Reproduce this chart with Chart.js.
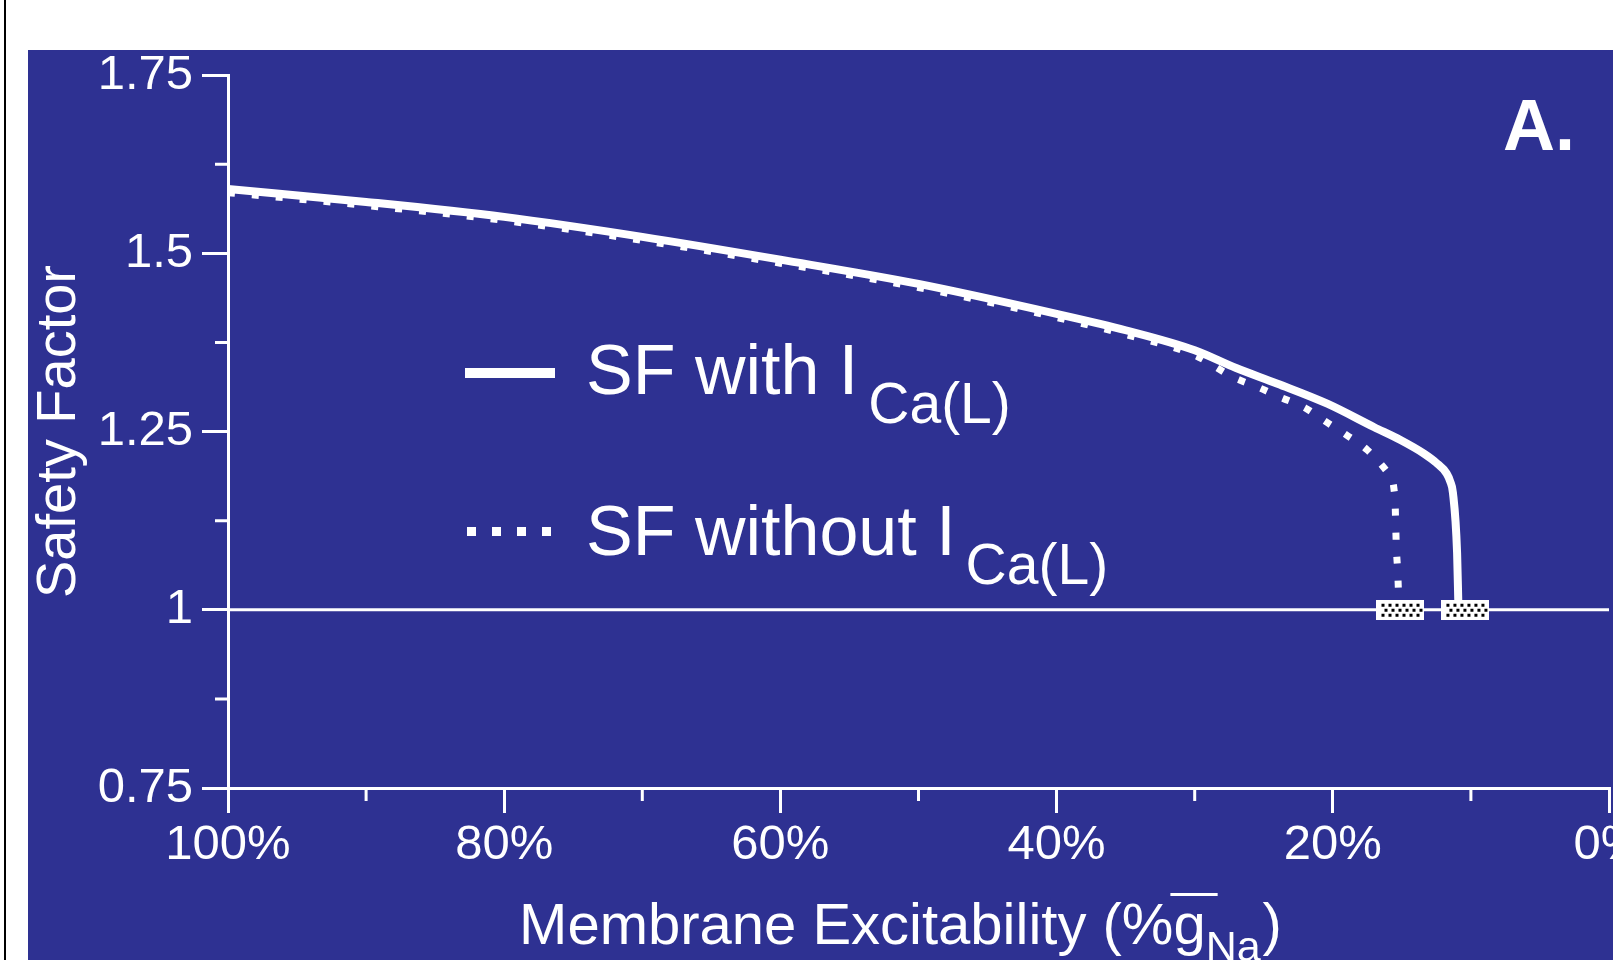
<!DOCTYPE html>
<html>
<head>
<meta charset="utf-8">
<title>Safety Factor vs Membrane Excitability</title>
<script src="https://cdn.jsdelivr.net/npm/chart.js@4.4.1/dist/chart.umd.min.js"></script>
<style>
  html, body { margin: 0; padding: 0; background: #fff; }
  canvas { display: block; }
</style>
</head>
<body>
<canvas id="sf-chart" width="1613" height="960"></canvas>
<script>
// Safety factor vs membrane excitability (% of gNa max)
const withCaX = [100, 90, 80, 70, 60, 50, 40, 35, 30, 27, 24, 20.4, 17, 15.1, 13.4, 12.5, 11.75, 11.5, 11.3, 11.0, 10.9];
const withCaY = [1.590, 1.572, 1.551, 1.523, 1.491, 1.457, 1.415, 1.392, 1.364, 1.339, 1.317, 1.289, 1.256, 1.238, 1.219, 1.206, 1.191, 1.180, 1.164, 1.080, 1.0];

const withoutCaX = [100, 90, 80, 70, 60, 50, 40, 35, 30, 27.2, 25.4, 23.8, 22.0, 20.6, 19.0, 17.5, 16.0, 15.5, 15.45, 15.4, 15.3, 15.2];
const withoutCaY = [1.585, 1.567, 1.546, 1.518, 1.486, 1.452, 1.410, 1.386, 1.357, 1.326, 1.312, 1.298, 1.283, 1.265, 1.245, 1.224, 1.192, 1.157, 1.122, 1.088, 1.053, 1.0];

// conduction block markers, sitting on SF = 1
const blockX = [15.1, 10.4];
const blockY = [1, 1];

// SF = 1 reference line
const thresholdX = [100, 0];
const thresholdY = [1, 1];

const xTicks = [100, 80, 60, 40, 20, 0];
const xTickLabels = ['100%', '80%', '60%', '40%', '20%', '0%'];
const xMinorTicks = [90, 70, 50, 30, 10];
const yTicks = [0.75, 1, 1.25, 1.5, 1.75];
const yTickLabels = ['0.75', '1', '1.25', '1.5', '1.75'];
const yMinorTicks = [0.875, 1.125, 1.375, 1.625];

const seriesNames = ['SF with I', 'SF without I'];
const seriesSub = 'Ca(L)';

const BLUE = '#2e3192';
const FONT = '"Liberation Sans", Arial, Helvetica, sans-serif';

Chart.defaults.font.family = FONT;
Chart.defaults.color = '#fff';

const pts = (xs, ys) => xs.map((v, i) => ({x: v, y: ys[i]}));

// white box with black dot hatching
function makeBlockMarker() {
    const c = document.createElement('canvas');
    c.width = 48;
    c.height = 20;
    const g = c.getContext('2d');
    g.fillStyle = '#fff';
    g.fillRect(0, 0, 48, 20);
    g.fillStyle = '#000';
    for (let row = 0; row < 3; row++) {
        for (let col = 0; col < 6; col++) {
            g.fillRect(5 + col * 7 + (row % 2 ? 3 : 0), 4 + row * 5, 3, 3);
        }
    }
    return c;
}

function textAt(ctx, text, x, y, font) {
    ctx.font = font;
    ctx.fillText(text, x, y);
    return ctx.measureText(text).width;
}

const figurePlugin = {
    id: 'figure',
    beforeDraw(chart) {
        const ctx = chart.ctx;
        ctx.save();
        ctx.fillStyle = '#fff';
        ctx.fillRect(0, 0, chart.width, chart.height);
        ctx.fillStyle = BLUE;
        ctx.fillRect(28, 50, chart.width - 28, chart.height - 50);
        ctx.fillStyle = '#000';
        ctx.fillRect(4, 0, 2, chart.height);
        ctx.restore();
    },
    afterDraw(chart) {
        const {ctx, scales: {x, y}} = chart;
        ctx.save();
        ctx.fillStyle = '#fff';
        ctx.strokeStyle = '#fff';
        ctx.textAlign = 'left';
        ctx.textBaseline = 'alphabetic';

        // minor ticks
        ctx.lineWidth = 3;
        ctx.beginPath();
        xMinorTicks.forEach(v => {
            const px = x.getPixelForValue(v);
            ctx.moveTo(px, x.top);
            ctx.lineTo(px, x.top + 13);
        });
        yMinorTicks.forEach(v => {
            const py = y.getPixelForValue(v);
            ctx.moveTo(y.right, py);
            ctx.lineTo(y.right - 13, py);
        });
        ctx.stroke();

        // legend
        const rows = [
            {name: seriesNames[0], base: 394, dotted: false},
            {name: seriesNames[1], base: 555, dotted: true}
        ];
        rows.forEach(r => {
            if (r.dotted) {
                for (let i = 0; i < 4; i++) ctx.fillRect(467 + i * 25, r.base - 28, 9, 9);
            } else {
                ctx.fillRect(465, r.base - 26, 90, 10);
            }
            const w = textAt(ctx, r.name, 586, r.base, '70px ' + FONT);
            textAt(ctx, seriesSub, 586 + w + 10, r.base + 29, '57px ' + FONT);
        });

        // panel letter
        textAt(ctx, 'A.', 1503, 150, 'bold 72px ' + FONT);

        // x axis title with overlined g and subscript Na
        const main = 'Membrane Excitability (%';
        const big = '58px ' + FONT;
        const small = '43px ' + FONT;
        ctx.font = big;
        const wMain = ctx.measureText(main).width;
        const wG = ctx.measureText('g').width;
        const wClose = ctx.measureText(')').width;
        ctx.font = small;
        const wSub = ctx.measureText('Na').width;
        const total = wMain + wG + wSub + wClose + 2;
        let tx = (x.left + x.right) / 2 - total / 2 - 18;
        const base = 944;
        tx += textAt(ctx, main, tx, base, big);
        textAt(ctx, 'g', tx, base, big);
        ctx.fillRect(tx - 3, base - 51, wG + 15, 3);
        tx += wG;
        tx += textAt(ctx, 'Na', tx, base + 17, small) + 2;
        textAt(ctx, ')', tx, base, big);
        ctx.restore();
    }
};

const ctx = document.getElementById('sf-chart').getContext('2d');
new Chart(ctx, {
    type: 'line',
    data: {
        datasets: [
            {
                label: 'SF = 1',
                data: pts(thresholdX, thresholdY),
                borderColor: '#fff',
                borderWidth: 3,
                pointRadius: 0,
                order: 3
            },
            {
                label: seriesNames[1] + seriesSub,
                data: pts(withoutCaX, withoutCaY),
                borderColor: '#fff',
                borderWidth: 7,
                borderDash: [7, 17],
                borderCapStyle: 'butt',
                cubicInterpolationMode: 'monotone',
                pointRadius: 0,
                order: 2
            },
            {
                label: seriesNames[0] + seriesSub,
                data: pts(withCaX, withCaY),
                borderColor: '#fff',
                borderWidth: 8,
                borderCapStyle: 'round',
                borderJoinStyle: 'round',
                cubicInterpolationMode: 'monotone',
                pointRadius: 0,
                order: 1
            },
            {
                label: 'block',
                data: pts(blockX, blockY),
                showLine: false,
                pointStyle: makeBlockMarker(),
                pointRadius: 12,
                order: 0
            }
        ]
    },
    options: {
        responsive: false,
        animation: false,
        layout: {
            autoPadding: false,
            padding: {top: 75, right: 4, left: 0, bottom: 0}
        },
        plugins: {
            legend: {display: false},
            tooltip: {enabled: false}
        },
        scales: {
            x: {
                type: 'linear',
                reverse: true,
                min: 0,
                max: 100,
                afterBuildTicks: scale => { scale.ticks = xTicks.map(v => ({value: v})); },
                afterFit: scale => {
                    scale.height = 172;
                    scale.paddingLeft = 0;
                    scale.paddingRight = 0;
                },
                grid: {drawOnChartArea: false, color: '#fff', lineWidth: 3, tickLength: 25},
                border: {color: '#fff', width: 3},
                ticks: {
                    color: '#fff',
                    font: {size: 49},
                    padding: 3,
                    maxRotation: 0,
                    autoSkip: false,
                    callback: v => xTickLabels[xTicks.indexOf(v)]
                }
            },
            y: {
                min: 0.75,
                max: 1.75,
                afterBuildTicks: scale => { scale.ticks = yTicks.map(v => ({value: v})); },
                afterFit: scale => {
                    scale.width = 228;
                    scale.paddingTop = 0;
                    scale.paddingBottom = 0;
                },
                grid: {drawOnChartArea: false, color: '#fff', lineWidth: 3, tickLength: 26},
                border: {color: '#fff', width: 3},
                ticks: {
                    color: '#fff',
                    font: {size: 49},
                    padding: 9,
                    autoSkip: false,
                    callback: v => yTickLabels[yTicks.indexOf(v)]
                },
                title: {
                    display: true,
                    text: 'Safety Factor',
                    color: '#fff',
                    font: {size: 56},
                    padding: {top: 26, bottom: 0}
                }
            }
        }
    },
    plugins: [figurePlugin]
});
</script>
</body>
</html>
